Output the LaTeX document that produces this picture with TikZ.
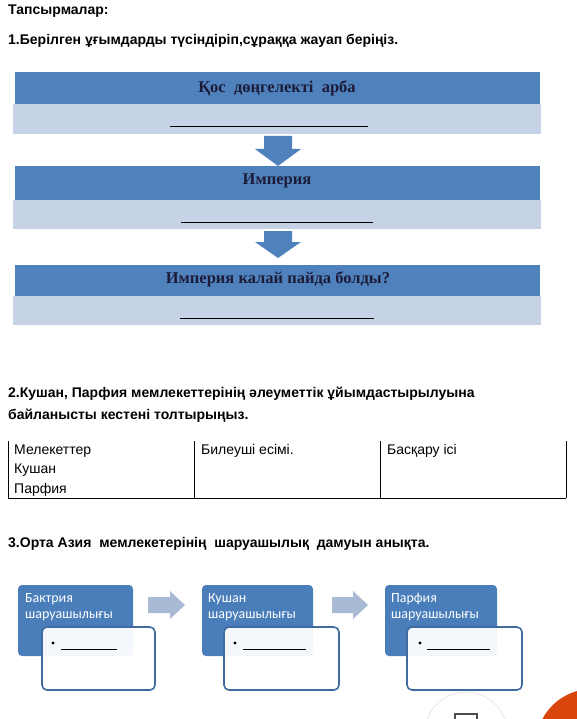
\documentclass[tikz,border=0pt]{standalone}
\usepackage{fontspec}
\setmainfont{Liberation Sans}
\newfontfamily\serifbox{Liberation Serif}
\newfontfamily\calib{Carlito}
\definecolor{hdblue}{HTML}{4F81BD}
\definecolor{lightband}{HTML}{C6D3E6}
\definecolor{boxblue}{HTML}{4A7EBB}
\definecolor{lightarrow}{HTML}{A9BAD4}
\definecolor{navy}{HTML}{1C1C38}
\definecolor{orangec}{HTML}{D8460E}
\tikzset{
  headtxt/.style={font=\bfseries\fontsize{14}{16}\selectfont, anchor=west, inner sep=0pt},
  celltxt/.style={font=\fontsize{14}{16}\selectfont, anchor=west, inner sep=0pt},
  boxtitle/.style={font=\serifbox\bfseries\fontsize{16.5}{18}\selectfont, text=navy, inner sep=0pt},
  bluetxt/.style={font=\calib\fontsize{14}{16}\selectfont, text=white, anchor=north west, inner sep=0pt, align=left},
  darkband/.style={fill=hdblue, draw=none},
  litband/.style={fill=lightband, draw=none},
  blankline/.style={line width=1pt, black},
  downarrow/.style={fill=hdblue, draw=none},
  bluebox/.style={fill=boxblue, draw=none, rounded corners=4pt},
  whitebox/.style={fill=white, fill opacity=0.94, draw=boxblue!85!black, line width=1.6pt, rounded corners=5pt},
  sidearrow/.style={fill=lightarrow, draw=none},
  tabline/.style={line width=0.8pt, black}
}
\begin{document}
\begin{tikzpicture}[x=1pt,y=-1pt]
\useasboundingbox (0,0) rectangle (576,719);
% headings
\node[headtxt] (t0) at (8,11) {Тапсырмалар:};
\node[headtxt] (t1) at (8,41) {1.Берілген ұғымдарды түсіндіріп,сұраққа жауап беріңіз.};
% box 1
\path[litband] (13,104) rectangle (541,134);
\path[darkband] (15,72) rectangle (540,104);
\node[boxtitle] (b1) at (277,88) {Қос\ \ дөңгелекті\ \ арба};
\coordinate (u1a) at (170,127); \coordinate (u1b) at (368,127);
\draw[blankline] (u1a) -- (u1b);
% arrow 1
\path[downarrow] (264,136) -- (292,136) -- (292,149) -- (301,149) -- (278,166) -- (255,149) -- (264,149) -- cycle;
% box 2
\path[litband] (13,200) rectangle (541,229);
\path[darkband] (15,166) rectangle (540,200);
\node[boxtitle] (b2) at (277,181) {Империя};
\coordinate (u2a) at (181,222); \coordinate (u2b) at (373,222);
\draw[blankline] (u2a) -- (u2b);
% arrow 2
\path[downarrow] (264,231) -- (292,231) -- (292,242) -- (301,242) -- (278,258) -- (255,242) -- (264,242) -- cycle;
% box 3
\path[litband] (13,296) rectangle (541,325);
\path[darkband] (15,265) rectangle (540,296);
\node[boxtitle] (b3) at (278,279) {Империя калай пайда болды?};
\coordinate (u3a) at (180,318); \coordinate (u3b) at (374,318);
\draw[blankline] (u3a) -- (u3b);
% section 2
\node[headtxt] (t2) at (8,394) {2.Кушан, Парфия мемлекеттерінің әлеуметтік ұйымдастырылуына};
\node[headtxt] (t3) at (8,416) {байланысты кестені толтырыңыз.};
% table
\draw[tabline] (8,441) -- (8,498) -- (566,498);
\draw[tabline] (194,441) -- (194,498);
\draw[tabline] (380,441) -- (380,498);
\draw[tabline] (566,441) -- (566,498);
\node[celltxt] (c1) at (14,451) {Мелекеттер};
\node[celltxt] (c2) at (14,470) {Кушан};
\node[celltxt] (c3) at (14,490) {Парфия};
\node[celltxt] (c4) at (201,451) {Билеуші есімі.};
\node[celltxt] (c5) at (387,451) {Басқару ісі};
% section 3
\node[headtxt] (t4) at (8,544) {3.Орта Азия\ \ мемлекетерінің\ \ шаруашылық\ \ дамуын анықта.};
% group 1
\path[bluebox] (18,585) rectangle (133,656);
\node[bluetxt] (g1) at (25,593) {Бактрия\\шаруашылығы};
\path[whitebox] (42,627) rectangle (155,690);
\fill (53,643) circle (1.6);
\coordinate (l1a) at (61,649); \coordinate (l1b) at (117,649);
\draw[line width=0.7pt] (l1a) -- (l1b);
% arrow
\path[sidearrow] (148,597) -- (170,597) -- (170,591) -- (185,605) -- (170,619) -- (170,613) -- (148,613) -- cycle;
% group 2
\path[bluebox] (202,585) rectangle (313,656);
\node[bluetxt] (g2) at (208,593) {Кушан\\шаруашылығы};
\path[whitebox] (224,627) rectangle (339,690);
\fill (235,643) circle (1.6);
\coordinate (l2a) at (243,649); \coordinate (l2b) at (306,649);
\draw[line width=0.7pt] (l2a) -- (l2b);
% arrow
\path[sidearrow] (332,597) -- (353,597) -- (353,591) -- (368,605) -- (353,619) -- (353,613) -- (332,613) -- cycle;
% group 3
\path[bluebox] (385,585) rectangle (497,656);
\node[bluetxt] (g3) at (391,593) {Парфия\\шаруашылығы};
\path[whitebox] (407,627) rectangle (522,690);
\fill (420,643) circle (1.6);
\coordinate (l3a) at (427,649); \coordinate (l3b) at (490,649);
\draw[line width=0.7pt] (l3a) -- (l3b);
% bottom right decorations
\draw[black!8, fill=white, line width=1pt] (466,733) circle (41);
\draw[black!70, line width=1.2pt] (455,730) -- (455,714) -- (477,714) -- (477,730);
\fill[orangec] (592,745) circle (56);
\end{tikzpicture}
\end{document}
